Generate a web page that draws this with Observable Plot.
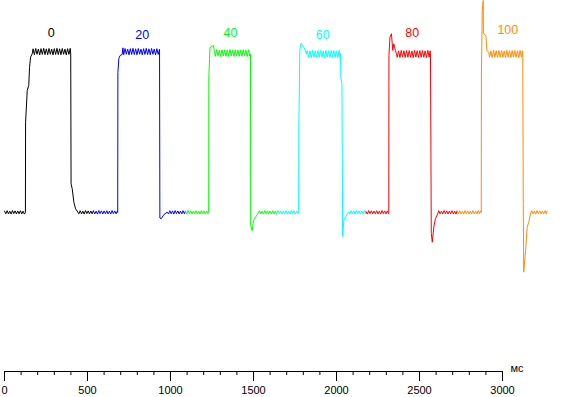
<!DOCTYPE html>
<html>
<head>
<meta charset="utf-8">
<script src="https://cdn.jsdelivr.net/npm/d3@7"></script>
<script src="https://cdn.jsdelivr.net/npm/@observablehq/plot@0.6"></script>
<style>
html,body{margin:0;padding:0;background:#fff;}
#chart{width:569px;height:397px;overflow:hidden;}
</style>
</head>
<body>
<div id="chart"></div>
<script>
// Segment labels and colours
const labels = ["0", "20", "40", "60", "80", "100"];
const colors = ["#000000", "#0000ff", "#00ff00", "#00ffff", "#ff0000", "#ff8c00"];
// Label positions (ms, level)
const labelX = [281, 830, 1361, 1917, 2456, 3032];
const labelY = [112.3, 111.2, 112.1, 111.2, 112.1, 114.2];

// Axis
const xDomain = [0, 3000];
const yDomain = [-99.4, 132.5];
const majorTicks = [0, 500, 1000, 1500, 2000, 2500, 3000];
const xTickLabels = ["0", "500", "1000", "1500", "2000", "2500", "3000"];
const minorTicks = [0,100,200,300,400,500,600,700,800,900,1000,1100,1200,1300,1400,1500,1600,1700,1800,1900,2000,2100,2200,2300,2400,2500,2600,2700,2800,2900,3000];
const unitLabel = "мс";

// Traces: [time ms, level]
const seg0 = [
[0,0.9],[8,-0.8],[16,1.1],[24,-0.9],[32,0.8],[40,-1.0],[48,1.2],[56,-0.7],[64,1.0],[72,-0.9],[80,0.9],[88,-0.8],[96,1.1],[104,-0.9],[112,0.8],[120,-1.0],
[126,0],[127,56.4],[137,76.3],[146,79.4],[151,90.8],[157,97.1],[167,99.2],
[172,102.3],[180,98.6],[188,102.5],[196,98.9],[204,102.1],[212,98.5],[220,102.4],[228,98.8],[236,102.6],[244,98.7],[252,102.3],[260,98.6],[268,102.5],[276,98.9],[284,102.1],[292,98.5],[300,102.4],[308,98.8],[316,102.6],[324,98.7],[332,102.3],[340,98.6],[348,102.5],[356,98.9],[364,102.1],[372,98.5],[380,102.4],[388,98.8],[396,102.6],
[399,99],[401,17.9],[408,14.8],[418,6.4],[428,2.3],[442,0.2],
[448,-0.8],[456,1.1],[464,-0.9],[472,0.8],[480,-1.0],[488,1.2],[496,-0.7],[504,1.0],[512,-0.9],[520,0.9],[528,-0.8],[536,1.0]
];
const seg20 = [
[536,1.0],[544,-0.9],[552,0.8],[560,-1.0],[568,1.2],[576,-0.7],[584,1.0],[592,-0.9],[600,0.9],[608,-0.8],[616,1.1],[624,-0.9],[632,0.8],[640,-1.0],[648,1.2],[656,-0.7],[664,1.0],[672,-0.9],[680,0.9],
[682,0],[683,87.5],[689,96.3],[696,98.1],[709,98.8],[713,102.9],
[718,98.6],[726,102.5],[734,98.9],[742,102.1],[750,98.5],[758,102.4],[766,98.8],[774,102.6],[782,98.7],[790,102.3],[798,98.6],[806,102.5],[814,98.9],[822,102.1],[830,98.5],[838,102.4],[846,98.8],[854,102.6],[862,98.7],[870,102.3],[878,98.6],[886,102.5],[894,98.9],[902,102.1],[910,98.5],[918,102.4],[926,98.8],[934,102.0],
[936,-3.5],[944,-3.9],[960,-1.4],[980,0.2],
[988,-0.9],[996,1.1],[1004,-0.8],[1012,1.0],[1020,-1.0],[1028,1.2],[1036,-0.7],[1044,1.0],[1052,-0.9],[1060,0.9],[1068,-0.8],[1076,1.1],[1084,-0.9],[1090,0.8]
];
const seg40 = [
[1090,0.8],[1098,-1.0],[1106,1.2],[1114,-0.7],[1122,1.0],[1130,-0.9],[1138,0.9],[1146,-0.8],[1154,1.1],[1162,-0.9],[1170,0.8],[1178,-1.0],[1186,1.2],[1194,-0.7],[1202,1.0],[1210,-0.9],[1218,0.9],[1226,-0.8],
[1230,0],[1231,85],[1238,103.1],[1259,104.4],[1265,100],
[1270,97.6],[1278,101.8],[1286,97.9],[1294,101.4],[1302,97.5],[1310,101.7],[1318,97.8],[1326,101.5],[1334,97.6],[1342,101.6],[1350,97.6],[1358,101.8],[1366,97.9],[1374,101.4],[1382,97.5],[1390,101.7],[1398,97.8],[1406,101.5],[1414,97.6],[1422,101.6],[1430,97.6],[1438,101.8],[1446,97.9],[1454,101.4],[1462,97.5],[1470,101.7],[1478,97.8],
[1482,99],[1483,-8],[1492,-11.3],[1500,-5],[1512,-2.9],[1530,-0.4],
[1536,1.1],[1544,-0.9],[1552,0.8],[1560,-1.0],[1568,1.2],[1576,-0.7],[1584,1.0],[1592,-0.9],[1600,0.9],[1608,-0.8],[1616,1.1],[1624,-0.9],[1632,0.8],[1640,-1.0]
];
const seg60 = [
[1640,-1.0],[1648,1.2],[1656,-0.7],[1664,1.0],[1672,-0.9],[1680,0.9],[1688,-0.8],[1696,1.1],[1704,-0.9],[1712,0.8],[1720,-1.0],[1728,1.2],[1736,-0.7],[1744,1.0],[1752,-0.9],[1760,0.9],[1768,-0.8],
[1772,0],[1773,53.3],[1779,101.3],[1787,105.8],[1803,103.3],[1813,101],[1819,99],
[1824,101.2],[1832,97.0],[1840,101.0],[1848,96.8],[1856,101.3],[1864,97.1],[1872,101.1],[1880,96.9],[1888,101.2],[1896,97.0],[1904,101.2],[1912,97.0],[1920,101.0],[1928,96.8],[1936,101.3],[1944,97.1],[1952,101.1],[1960,96.9],[1968,101.2],[1976,97.0],[1984,101.2],[1992,97.0],[2000,101.0],[2008,96.8],[2016,101.3],[2022,97.1],
[2024,99.4],[2026,84.6],[2033,80],[2037,-15],[2044,-5],[2054,-2.9],[2074,0.2],
[2080,-0.9],[2088,1.1],[2096,-0.8],[2104,1.0],[2112,-1.0],[2120,1.2],[2128,-0.7],[2136,1.0],[2144,-0.9],[2152,0.9],[2160,-0.8],[2168,1.1],[2176,-0.9],[2178,0.5]
];
const seg80 = [
[2178,0.5],[2186,-1.0],[2194,1.2],[2202,-0.7],[2210,1.0],[2218,-0.9],[2226,0.9],[2234,-0.8],[2242,1.1],[2250,-0.9],[2258,0.8],[2266,-1.0],[2274,1.2],[2282,-0.7],[2290,1.0],[2298,-0.9],[2306,0.9],[2314,-0.8],
[2315,0],[2316,98.1],[2322,109.6],[2331,111.7],[2339,101.3],[2345,105.4],[2355,101.3],[2361,99],
[2366,97.0],[2374,101.0],[2382,96.8],[2390,101.3],[2398,97.1],[2406,101.1],[2414,96.9],[2422,101.2],[2430,97.0],[2438,101.2],[2446,97.0],[2454,101.0],[2462,96.8],[2470,101.3],[2478,97.1],[2486,101.1],[2494,96.9],[2502,101.2],[2510,97.0],[2518,101.2],[2526,97.0],[2534,101.0],[2542,96.8],[2550,101.3],[2558,97.1],[2564,101.1],
[2566,99.4],[2571,-13.1],[2577,-18.6],[2586,-9.2],[2596,-3.9],[2610,-0.8],
[2616,1.1],[2624,-0.9],[2632,0.8],[2640,-1.0],[2648,1.2],[2656,-0.7],[2664,1.0],[2672,-0.9],[2680,0.9],[2688,-0.8],[2696,1.1],[2704,-0.9],[2712,0.8],[2720,-1.0],[2726,0.9]
];
const seg100 = [
[2726,0.9],[2734,-0.8],[2742,1.1],[2750,-0.9],[2758,0.8],[2766,-1.0],[2774,1.2],[2782,-0.7],[2790,1.0],[2798,-0.9],[2806,0.9],[2814,-0.8],[2822,1.1],[2830,-0.9],[2838,0.8],[2846,-1.0],[2854,1.2],[2862,-0.7],[2868,1.0],
[2872,0],[2873,86.7],[2878,126.3],[2884,132.5],[2885,111.9],[2900,110.6],[2906,101.3],[2917,100],
[2922,97.0],[2930,101.0],[2938,96.8],[2946,101.3],[2954,97.1],[2962,101.1],[2970,96.9],[2978,101.2],[2986,97.0],[2994,101.2],[3002,97.0],[3010,101.0],[3018,96.8],[3026,101.3],[3034,97.1],[3042,101.1],[3050,96.9],[3058,101.2],[3066,97.0],[3074,101.2],[3082,97.0],[3090,101.0],[3098,96.8],[3106,101.3],[3114,97.1],[3120,101.1],
[3122,99.4],[3125,5.6],[3128,-37.3],[3139,-23.8],[3149,-9.2],[3158,-6.1],[3169,-0.8],
[3176,1.1],[3184,-0.9],[3192,0.8],[3200,-1.0],[3208,1.2],[3216,-0.7],[3224,1.0],[3232,-0.9],[3240,0.9],[3248,-0.8],[3256,1.1],[3264,-0.9],[3269,0.8]
];
const segments = [seg0, seg20, seg40, seg60, seg80, seg100];

const font = "'Liberation Sans', Arial, sans-serif";

const chart = Plot.plot({
  width: 569,
  height: 397,
  marginLeft: 4,
  marginRight: 67,
  marginTop: 0,
  marginBottom: 26,
  x: {domain: xDomain, axis: null},
  y: {domain: yDomain, axis: null},
  style: {background: "#fff", fontFamily: font, color: "#000", overflow: "visible"},
  marks: [
    Plot.ruleY([yDomain[0]], {stroke: "#000", strokeWidth: 1}),
    Plot.axisX(minorTicks, {anchor: "bottom", tickSize: 4, tickFormat: () => "", stroke: "#000"}),
    Plot.axisX(majorTicks, {anchor: "bottom", tickSize: 10, tickPadding: 5, fontSize: 11, fill: "#000", stroke: "#000",
      tickFormat: (d) => xTickLabels[majorTicks.indexOf(d)]}),
    ...segments.map((s, i) => Plot.line(s, {x: (d) => d[0], y: (d) => d[1], stroke: colors[i], strokeWidth: 1})),
    ...labels.map((lab, i) => Plot.text([lab], {x: () => labelX[i], y: () => labelY[i], fill: colors[i], fontSize: 12.5, fontFamily: font})),
    Plot.text([unitLabel], {frameAnchor: "bottom-right", dx: 8, dy: 0, textAnchor: "start", fontSize: 11, fill: "#000"})
  ]
});
document.getElementById("chart").appendChild(chart);
</script>
</body>
</html>
